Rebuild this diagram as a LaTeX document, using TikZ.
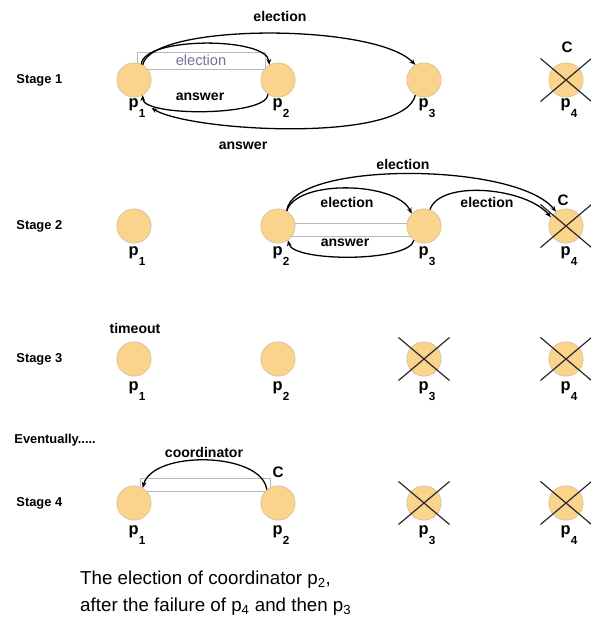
\documentclass[tikz,border=0pt]{standalone}
\usepackage{fontspec}
\setmainfont{Liberation Sans}
\usetikzlibrary{arrows.meta,shapes.misc,calc}

\definecolor{procfill}{RGB}{250,211,140}
\definecolor{procedge}{RGB}{205,190,160}
\definecolor{boxgrey}{RGB}{185,185,185}
\definecolor{elecpurple}{RGB}{125,108,160}

% process name with a dropped index
\newcommand{\pid}[1]{p\raisebox{-1.1ex}{\fontsize{10}{10}\selectfont #1}}

\tikzset{
  proc/.style={circle, draw=procedge, fill=procfill, line width=0.5pt, minimum size=1.03cm, inner sep=0pt},
  dead/.style={cross out, draw=black!85, line width=1pt, minimum width=1.5cm, minimum height=1.26cm, inner sep=0pt},
  msg/.style={-{Stealth[length=5pt,width=4pt]}, line width=1.1pt},
  txt/.style={font=\fontsize{12}{13}\selectfont\bfseries, inner sep=1pt},
  stage/.style={font=\fontsize{11}{12}\selectfont\bfseries, inner sep=1pt, anchor=west},
  pname/.style={font=\fontsize{14}{14}\selectfont\bfseries, inner sep=0pt},
  greybox/.style={draw=boxgrey, line width=0.6pt, inner sep=0pt},
}

\begin{document}
\begin{tikzpicture}[x=0.03cm, y=-0.03cm]
    \useasboundingbox (0,0) rectangle (591,633);

    % stage titles
    \node[stage] (st1) at (15,80) {Stage 1};
    \node[stage] (st2) at (15,226) {Stage 2};
    \node[stage] (st3) at (15,359) {Stage 3};
    \node[stage] (ev) at (13,440) {Eventually.....};
    \node[stage] (st4) at (15,503) {Stage 4};

    % grey boxes go under the processes
    \node[greybox, minimum width=3.84cm, minimum height=0.51cm, text=elecpurple,
          font=\fontsize{12.5}{13}\selectfont] (b1) at (201,60.5) {election};
    \node[greybox, minimum width=3.66cm, minimum height=0.39cm] (b2) at (351,229.5) {};
    \node[greybox, minimum width=3.9cm, minimum height=0.39cm] (b4) at (205,484.5) {};

    % processes p1..p4 in every stage
    \foreach \r/\y/\dy in {1/80/28,2/226/30,3/359/32,4/503/32} {
        \foreach \i/\x in {1/134,2/278,3/424,4/566} {
            \node[proc] (p\r\i) at (\x,\y) {};
            \node[pname] (l\r\i) at (\x+3,\y+\dy) {\pid{\i}};
        }
    }
    \foreach \n in {14,24,33,34,43,44}
        \node[dead] (x\n) at (p\n) {};

    % stage 1
    \node[txt, font=\fontsize{13}{13}\selectfont\bfseries] (c1) at (567,47) {C};
    \draw[msg] (p11.60) .. controls +(8,-42) and +(-40,-42) .. (p13.120);
    \draw[msg] (p11.65) .. controls +(2,-28) and +(-2,-28) .. (p12.120);
    \draw[msg] (p12.235) .. controls +(0,22) and +(0,22) .. (p11.300);
    \draw[msg] (p13.240) .. controls +(-10,48) and +(40,24) .. ($(l11.east)+(6,0)$);
    \node[txt] (e1) at (280,16) {election};
    \node[txt] (a1) at (200,97) {answer};
    \node[txt] (a2) at (243,146) {answer};

    % stage 2
    \node[txt, font=\fontsize{13}{13}\selectfont\bfseries] (c2) at (563,200) {C};
    \draw[msg] (p22.60) .. controls +(5,-50) and +(-40,-50) .. (p24.125);
    \draw[msg] (p22.60) .. controls +(10,-32) and +(-15,-32) .. (p23.135);
    \draw[msg] (p23.70) .. controls +(10,-30) and +(-25,-30) .. (p24.150);
    \draw[msg] (p23.235) .. controls +(-5,22) and +(5,22) .. (p22.305);
    \node[txt] (e2) at (403,164) {election};
    \node[txt] (e3) at (347,202) {election};
    \node[txt] (e4) at (487,202) {election};
    \node[txt] (a3) at (345,243) {answer};

    % stage 3
    \node[txt] (tm) at (135,328) {timeout};

    % stage 4
    \node[txt, font=\fontsize{13}{13}\selectfont\bfseries] (c4) at (278,472) {C};
    \draw[msg] (p42.130) .. controls +(-5,-38) and +(10,-38) .. (p41.60);
    \node[txt] (co) at (204,452) {coordinator};

    \node[font=\fontsize{16}{22.5}\selectfont, align=left, anchor=north west, inner sep=0pt] (cap) at (80,571)
        {The election of coordinator p\textsubscript{2},\\after the failure of p\textsubscript{4} and then p\textsubscript{3}};
\end{tikzpicture}
\end{document}
